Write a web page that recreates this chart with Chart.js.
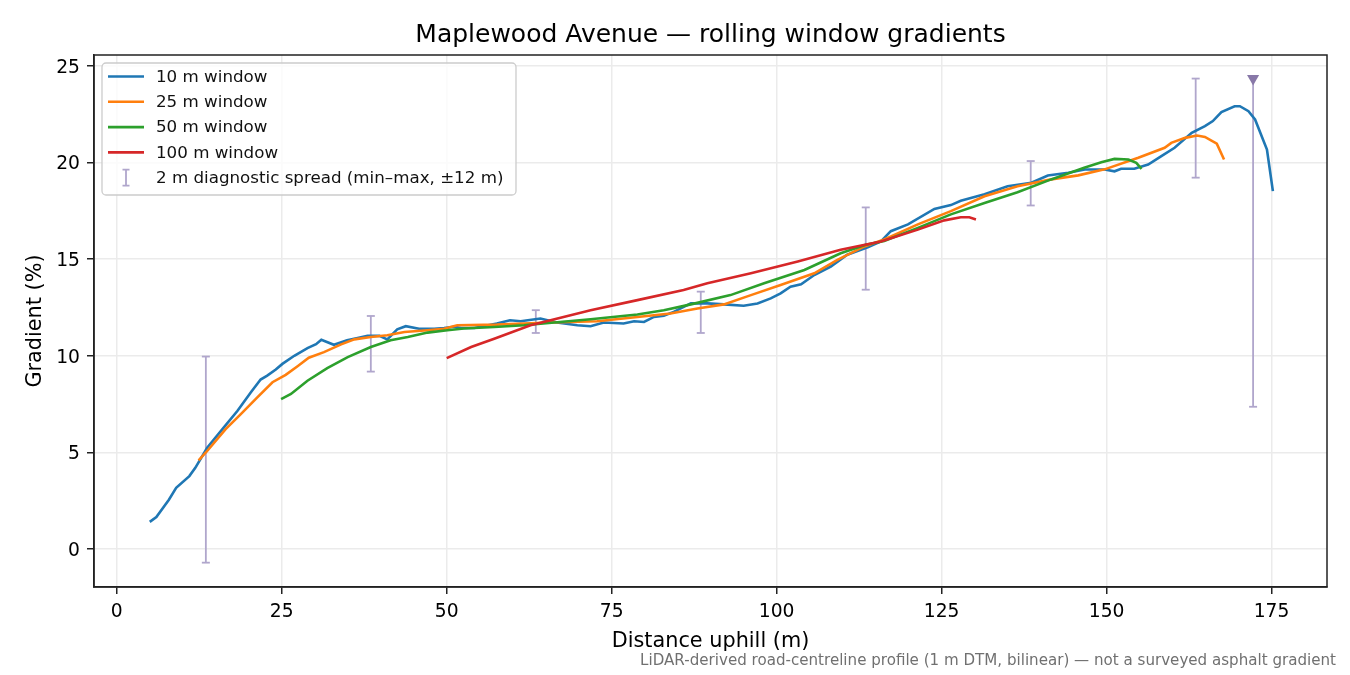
<!DOCTYPE html>
<html>
<head>
<meta charset="utf-8">
<script src="https://cdn.jsdelivr.net/npm/chart.js@4.4.1/dist/chart.umd.min.js"></script>
<style>
  html, body { margin: 0; padding: 0; background: #fff; }
  #wrap { width: 1350px; height: 675px; }
</style>
</head>
<body>
<div id="wrap"><canvas id="myChart" width="1350" height="675"></canvas></div>
<script>
// distance uphill (m) and gradient (%) for each rolling window
const dist10 = [5, 6, 7.9, 9, 11, 11.9, 13.7, 16.2, 18.3, 20.3, 21.8, 22.8, 24.1, 25.1, 26.9, 28.9, 30.2, 31, 32.9, 34.9, 36.5, 38, 39.8, 41, 42.5, 43.8, 45.8, 48.1, 49.6, 51.1, 52.2, 54.2, 57.6, 59.6, 61.2, 64.2, 66.7, 69.8, 71.8, 73.8, 76.8, 78.4, 79.9, 81.4, 82.9, 84.4, 87, 89.5, 92, 95, 97.1, 99.1, 100.6, 102.1, 103.7, 105.7, 108.2, 110.7, 113.8, 115.8, 117.3, 119.9, 123.9, 126.4, 127.9, 131.5, 135, 138.6, 141.1, 144.2, 146.7, 149.7, 151.2, 152.2, 154.2, 156.3, 158.3, 160.3, 162.9, 164.9, 166.1, 167.4, 169.4, 170.2, 171.5, 172.5, 174.3, 175.2];
const grad10 = [1.4, 1.65, 2.55, 3.16, 3.77, 4.2, 5.24, 6.28, 7.15, 8.1, 8.77, 8.97, 9.29, 9.58, 10.0, 10.4, 10.6, 10.83, 10.57, 10.8, 10.92, 11.03, 11.03, 10.85, 11.37, 11.53, 11.4, 11.4, 11.44, 11.5, 11.44, 11.44, 11.67, 11.84, 11.79, 11.93, 11.72, 11.58, 11.53, 11.72, 11.67, 11.79, 11.75, 12.01, 12.07, 12.27, 12.71, 12.71, 12.66, 12.59, 12.71, 12.97, 13.23, 13.58, 13.7, 14.18, 14.62, 15.23, 15.62, 15.92, 16.45, 16.8, 17.6, 17.8, 18.02, 18.36, 18.78, 18.96, 19.33, 19.47, 19.64, 19.64, 19.55, 19.68, 19.68, 19.9, 20.33, 20.77, 21.54, 21.89, 22.15, 22.62, 22.92, 22.92, 22.66, 22.23, 20.68, 18.52];

const dist25 = [12.4, 13.7, 16.5, 18.8, 21.3, 23.6, 25.6, 27.4, 29.1, 31.4, 34, 36, 38.5, 41, 43.6, 47.1, 49.6, 51.6, 57.6, 65.7, 72.8, 78.9, 83.9, 88, 92, 96.1, 100.6, 105.7, 109.2, 113.3, 116.3, 121.4, 126.4, 131.5, 136.5, 141.6, 145.7, 149.7, 154.8, 158.8, 159.8, 161.9, 163.7, 164.9, 166.7, 167.8];
const grad25 = [4.58, 5.07, 6.2, 6.98, 7.85, 8.63, 9.01, 9.46, 9.9, 10.19, 10.59, 10.85, 10.97, 11.06, 11.23, 11.32, 11.4, 11.58, 11.61, 11.72, 11.79, 12.01, 12.19, 12.45, 12.66, 13.14, 13.66, 14.27, 14.96, 15.66, 16.02, 16.8, 17.49, 18.26, 18.78, 19.13, 19.34, 19.65, 20.25, 20.77, 21.02, 21.28, 21.4, 21.33, 20.98, 20.16];

const dist50 = [24.9, 26.4, 28.9, 31.9, 35, 38.5, 41.5, 44.1, 47.1, 50.1, 52.6, 57.2, 61.7, 71.8, 78.9, 82.9, 87, 93, 98.1, 104.2, 109.7, 113.5, 116.3, 121.4, 126.4, 131.5, 136.5, 141.6, 146.6, 149.2, 151.2, 153.3, 154.5, 155.3];
const grad50 = [7.76, 8.02, 8.71, 9.36, 9.93, 10.45, 10.8, 10.97, 11.2, 11.32, 11.41, 11.49, 11.58, 11.89, 12.14, 12.36, 12.66, 13.14, 13.75, 14.44, 15.31, 15.75, 15.94, 16.62, 17.32, 17.91, 18.47, 19.13, 19.73, 20.02, 20.19, 20.16, 19.99, 19.68];

const dist100 = [50, 53.7, 57.2, 62.7, 71.8, 78.9, 85.9, 89.5, 96.1, 103.2, 109.7, 115.8, 121.4, 125.4, 127.9, 129.2, 130.2];
const grad100 = [9.88, 10.45, 10.88, 11.58, 12.36, 12.88, 13.4, 13.75, 14.27, 14.88, 15.49, 15.92, 16.53, 17.01, 17.17, 17.17, 17.06];

// 2 m diagnostic spread (min-max within +-12 m)
const spreadDist = [13.5, 38.5, 63.5, 88.5, 113.5, 138.5, 163.5, 172.2];
const spreadMin = [-0.71, 9.18, 11.18, 11.18, 13.42, 17.78, 19.22, 7.36];
const spreadMax = [9.96, 12.06, 12.36, 13.32, 17.68, 20.08, 24.35, 24.35];
const spreadClipped = [false, false, false, false, false, false, false, true];

const xTicks = [0, 25, 50, 75, 100, 125, 150, 175];
const yTicks = [0, 5, 10, 15, 20, 25];

const titleText = 'Maplewood Avenue \u2014 rolling window gradients';
const xLabel = 'Distance uphill (m)';
const yLabel = 'Gradient (%)';
const footText = 'LiDAR-derived road-centreline profile (1 m DTM, bilinear) \u2014 not a surveyed asphalt gradient';

const FONT = '"DejaVu Sans", sans-serif';
const SPREAD = '#b0a6cc';

const pts = (xs, ys) => xs.map((x, i) => ({ x: x, y: ys[i] }));

// vertical segments of the spread, broken by null gaps
const spreadLines = [];
spreadDist.forEach((x, i) => {
	spreadLines.push({ x: x, y: spreadMin[i] });
	spreadLines.push({ x: x, y: spreadMax[i] });
	spreadLines.push({ x: x, y: null });
});
const spreadCaps = [];
spreadDist.forEach((x, i) => {
	spreadCaps.push({ x: x, y: spreadMin[i] });
	if (!spreadClipped[i]) spreadCaps.push({ x: x, y: spreadMax[i] });
});
const spreadMarks = spreadDist
	.map((x, i) => ({ x: x, y: spreadMax[i], c: spreadClipped[i] }))
	.filter((p) => p.c);

const lineSet = (label, xs, ys, color, order) => ({
	label: label,
	type: 'line',
	data: pts(xs, ys),
	borderColor: color,
	backgroundColor: color,
	borderWidth: 2.6,
	pointRadius: 0,
	tension: 0,
	order: order,
	legendKind: 'line',
});

// frame, titles and legend drawn on top of the plot
const decorations = {
	id: 'decorations',
	afterDraw(chart) {
		const ctx = chart.ctx;
		const a = chart.chartArea;
		ctx.save();

		ctx.strokeStyle = '#222';
		ctx.lineWidth = 1.5;
		ctx.strokeRect(a.left, a.top, a.right - a.left, a.bottom - a.top);

		ctx.fillStyle = '#000';
		ctx.textAlign = 'center';
		ctx.textBaseline = 'alphabetic';
		ctx.font = '25px ' + FONT;
		ctx.fillText(titleText, (a.left + a.right) / 2, 42);

		ctx.font = '20.8px ' + FONT;
		ctx.fillText(xLabel, (a.left + a.right) / 2, 646.5);

		ctx.save();
		ctx.translate(40.5, (a.top + a.bottom) / 2);
		ctx.rotate(-Math.PI / 2);
		ctx.fillText(yLabel, 0, 0);
		ctx.restore();

		ctx.fillStyle = '#707070';
		ctx.textAlign = 'right';
		ctx.font = '15.1px ' + FONT;
		ctx.fillText(footText, 1336, 664.5);

		// legend
		const bx = 102, by = 63, bw = 414, bh = 132;
		ctx.beginPath();
		ctx.roundRect(bx, by, bw, bh, 4);
		ctx.fillStyle = 'rgba(255,255,255,0.8)';
		ctx.fill();
		ctx.strokeStyle = '#cccccc';
		ctx.lineWidth = 1.3;
		ctx.stroke();

		const items = chart.data.datasets.filter((d) => d.legendKind);
		items.sort((p, q) => p.legendPos - q.legendPos);
		ctx.font = '16.7px ' + FONT;
		ctx.textAlign = 'left';
		ctx.textBaseline = 'middle';
		items.forEach((d, i) => {
			const y = 76.5 + i * 25.3;
			if (d.legendKind === 'line') {
				ctx.strokeStyle = d.borderColor;
				ctx.lineWidth = 2.6;
				ctx.beginPath();
				ctx.moveTo(108, y);
				ctx.lineTo(144, y);
				ctx.stroke();
			} else {
				ctx.strokeStyle = SPREAD;
				ctx.lineWidth = 1.8;
				ctx.beginPath();
				ctx.moveTo(126, y - 8);
				ctx.lineTo(126, y + 8);
				ctx.moveTo(122.5, y - 8);
				ctx.lineTo(129.5, y - 8);
				ctx.moveTo(122.5, y + 8);
				ctx.lineTo(129.5, y + 8);
				ctx.stroke();
			}
			ctx.fillStyle = '#111';
			ctx.fillText(d.label, 156, y + 1);
		});
		ctx.restore();
	},
};

const ctx = document.getElementById('myChart');

const datasets = [
	Object.assign(lineSet('10 m window', dist10, grad10, '#1f77b4', 4), { legendPos: 0 }),
	Object.assign(lineSet('25 m window', dist25, grad25, '#ff7f0e', 3), { legendPos: 1 }),
	Object.assign(lineSet('50 m window', dist50, grad50, '#2ca02c', 2), { legendPos: 2 }),
	Object.assign(lineSet('100 m window', dist100, grad100, '#d62728', 1), { legendPos: 3 }),
	{
		label: '2 m diagnostic spread (min\u2013max, \u00b112 m)',
		type: 'line',
		data: spreadLines,
		borderColor: SPREAD,
		borderWidth: 1.8,
		pointRadius: 0,
		spanGaps: false,
		order: 6,
		legendKind: 'errorbar',
		legendPos: 4,
	},
	{
		label: 'caps',
		type: 'scatter',
		data: spreadCaps,
		pointStyle: 'line',
		pointRadius: 4,
		pointBorderWidth: 1.8,
		pointBorderColor: SPREAD,
		pointBackgroundColor: SPREAD,
		order: 7,
	},
	{
		label: 'clipped',
		type: 'scatter',
		data: spreadMarks,
		pointStyle: 'triangle',
		rotation: 180,
		pointRadius: 7,
		pointBorderWidth: 0,
		pointBackgroundColor: '#8878a8',
		order: 5,
	},
];

const myChart = new Chart(ctx, {
	type: 'line',
	data: { datasets: datasets },
	options: {
		responsive: false,
		animation: false,
		devicePixelRatio: 1,
		layout: { padding: { top: 55, right: 23, left: 0, bottom: 0 } },
		plugins: {
			legend: { display: false },
			title: { display: false },
			tooltip: { enabled: false },
		},
		scales: {
			x: {
				type: 'linear',
				min: -3.45,
				max: 183.4,
				afterBuildTicks: (s) => { s.ticks = xTicks.map((v) => ({ value: v })); },
				afterFit: (s) => { s.height = 88; },
				grid: { color: '#ebebeb', lineWidth: 1.5, tickColor: '#222', tickLength: 7, tickWidth: 1.5 },
				border: { color: '#222', width: 1.5 },
				ticks: { color: '#000', font: { family: FONT, size: 18.7 }, padding: 7, autoSkip: false, maxRotation: 0 },
			},
			y: {
				type: 'linear',
				min: -1.97,
				max: 25.57,
				afterBuildTicks: (s) => { s.ticks = yTicks.map((v) => ({ value: v })); },
				afterFit: (s) => { s.width = 94; },
				grid: { color: '#ebebeb', lineWidth: 1.5, tickColor: '#222', tickLength: 7, tickWidth: 1.5 },
				border: { color: '#222', width: 1.5 },
				ticks: { color: '#000', font: { family: FONT, size: 18.7 }, padding: 7, labelOffset: 2 },
			},
		},
	},
	plugins: [decorations],
});
</script>
</body>
</html>
